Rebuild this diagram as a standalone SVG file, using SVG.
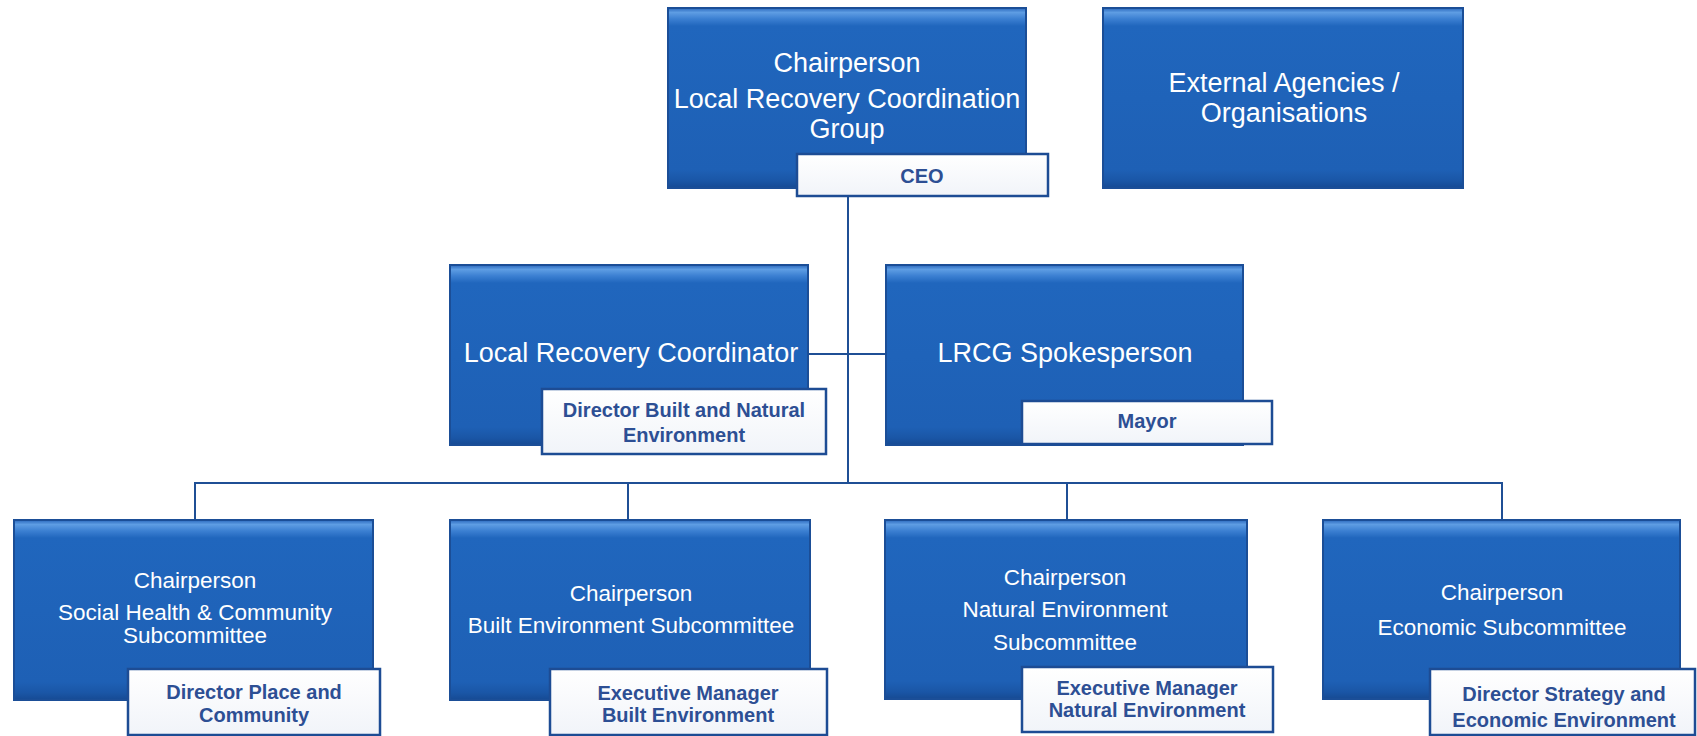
<svg xmlns="http://www.w3.org/2000/svg" width="1697" height="736" viewBox="0 0 1697 736">
<defs>
<linearGradient id="boxg" x1="0" y1="0" x2="0" y2="1">
<stop offset="0" stop-color="#2a68bd"/>
<stop offset="0.025" stop-color="#5e9de3"/>
<stop offset="0.06" stop-color="#3c80d2"/>
<stop offset="0.1" stop-color="#2066bd"/>
<stop offset="0.9" stop-color="#1e60b5"/>
<stop offset="0.96" stop-color="#1a56a6"/>
<stop offset="1" stop-color="#164a93"/>
</linearGradient>
<linearGradient id="subg" x1="0" y1="0" x2="0" y2="1">
<stop offset="0" stop-color="#ffffff"/>
<stop offset="1" stop-color="#f1f4f9"/>
</linearGradient>
</defs>
<style>
.box{fill:url(#boxg);stroke:#1b4e97;stroke-width:2}
.sub{fill:url(#subg);stroke:#1d4c94;stroke-width:2.5}
.t{font-family:"Liberation Sans",Arial,sans-serif;fill:#ffffff;text-anchor:middle}
.big{font-size:27px}
.sm{font-size:22.5px}
.s{font-family:"Liberation Sans",Arial,sans-serif;font-weight:bold;font-size:20px;fill:#2d4f94;text-anchor:middle}
.ln{stroke:#1f4f95;stroke-width:2;fill:none}
</style>
<rect width="1697" height="736" fill="#ffffff"/>
<g id="connectors">
<line class="ln" x1="848" y1="196" x2="848" y2="483"/>
<line class="ln" x1="808" y1="354" x2="886" y2="354"/>
<line class="ln" x1="194" y1="483" x2="1503" y2="483"/>
<line class="ln" x1="195" y1="483" x2="195" y2="520"/>
<line class="ln" x1="628" y1="483" x2="628" y2="520"/>
<line class="ln" x1="1067" y1="483" x2="1067" y2="520"/>
<line class="ln" x1="1502" y1="483" x2="1502" y2="520"/>
</g>
<g id="chair-lrcg">
<rect class="box" x="668" y="8" width="358" height="180"/>
<text class="t big" x="847" y="72">Chairperson</text>
<text class="t big" x="847" y="108">Local Recovery Coordination</text>
<text class="t big" x="847" y="138">Group</text>
<rect class="sub" x="797" y="154" width="251" height="42"/>
<text class="s" x="922" y="183">CEO</text>
</g>
<g id="external">
<rect class="box" x="1103" y="8" width="360" height="180"/>
<text class="t big" x="1284" y="92">External Agencies /</text>
<text class="t big" x="1284" y="122">Organisations</text>
</g>
<g id="lrc">
<rect class="box" x="450" y="265" width="358" height="180"/>
<text class="t big" x="631" y="362">Local Recovery Coordinator</text>
<rect class="sub" x="542" y="389" width="284" height="65"/>
<text class="s" x="684" y="417">Director Built and Natural</text>
<text class="s" x="684" y="442">Environment</text>
</g>
<g id="spokesperson">
<rect class="box" x="886" y="265" width="357" height="180"/>
<text class="t big" x="1065" y="362">LRCG Spokesperson</text>
<rect class="sub" x="1022" y="401" width="250" height="43"/>
<text class="s" x="1147" y="428">Mayor</text>
</g>
<g id="social">
<rect class="box" x="14" y="520" width="359" height="180"/>
<text class="t sm" x="195" y="588">Chairperson</text>
<text class="t sm" x="195" y="620">Social Health &amp; Community</text>
<text class="t sm" x="195" y="643">Subcommittee</text>
<rect class="sub" x="128" y="669" width="252" height="66"/>
<text class="s" x="254" y="699">Director Place and</text>
<text class="s" x="254" y="722">Community</text>
</g>
<g id="built">
<rect class="box" x="450" y="520" width="360" height="180"/>
<text class="t sm" x="631" y="601">Chairperson</text>
<text class="t sm" x="631" y="633">Built Environment Subcommittee</text>
<rect class="sub" x="550" y="669" width="277" height="66"/>
<text class="s" x="688" y="700">Executive Manager</text>
<text class="s" x="688" y="722">Built Environment</text>
</g>
<g id="natural">
<rect class="box" x="885" y="520" width="362" height="179"/>
<text class="t sm" x="1065" y="585">Chairperson</text>
<text class="t sm" x="1065" y="617">Natural Environment</text>
<text class="t sm" x="1065" y="650">Subcommittee</text>
<rect class="sub" x="1022" y="667" width="251" height="65"/>
<text class="s" x="1147" y="695">Executive Manager</text>
<text class="s" x="1147" y="717">Natural Environment</text>
</g>
<g id="economic">
<rect class="box" x="1323" y="520" width="357" height="179"/>
<text class="t sm" x="1502" y="600">Chairperson</text>
<text class="t sm" x="1502" y="635">Economic Subcommittee</text>
<rect class="sub" x="1430" y="669" width="265" height="66"/>
<text class="s" x="1564" y="701">Director Strategy and</text>
<text class="s" x="1564" y="727">Economic Environment</text>
</g>
</svg>
